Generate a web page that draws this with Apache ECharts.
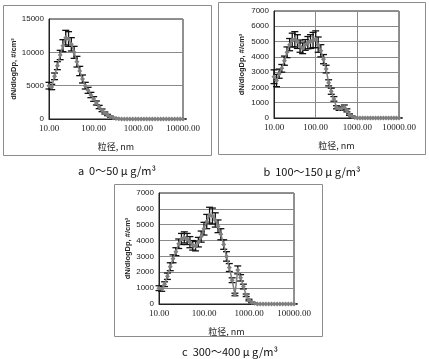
<!DOCTYPE html>
<html><head><meta charset="utf-8">
<script src="https://cdn.jsdelivr.net/npm/echarts@6/dist/echarts.min.js"></script>
<style>html,body{margin:0;padding:0;background:#fff}#c{width:429px;height:359px}</style>
</head><body><div id="c"></div>
<script>
// particle diameter, nm (16 channels per decade)
const diameters = [10.0,11.5,13.3,15.4,17.8,20.5,23.7,27.4,31.6,36.5,42.2,48.7,56.2,64.9,75.0,86.6,
  100,115,133,154,178,205,237,274,316,365,422,487,562,649,750,866,
  1000,1155,1334,1540,1778,2054,2371,2738,3162,3652,4217,4870,5623,6494,7499,8660,10000];
// panel a: 0~50 μg/m³
const seriesA = [5000,4800,6400,8000,9600,11000,12200,12000,11200,10000,8600,7200,6000,5000,4300,3600,
  3000,2400,1800,1300,900,600,350,180,80,30,10,0,0,0,0,0,0,0,0,0,0,0,0,0,0,0,0,0,0,0,0,0,0];
const errA = [500,400,500,600,700,900,1100,1100,1000,900,800,700,600,500,450,400,
  350,300,250,200,150,100,80,50,30,10,10,10,10,10,10,10,10,10,10,10,10,10,10,10,10,10,10,10,10,10,10,10,10];
// panel b: 100~150 μg/m³
const seriesB = [2700,2450,2900,3250,3750,4300,4800,5100,5150,5000,4700,4560,4780,4930,5000,5100,
  5150,4800,4400,3850,3200,2300,1750,1250,700,600,620,700,500,220,100,40,0,0,0,0,0,0,0,0,0,0,0,0,0,0,0,0,0];
const errB = [450,400,300,250,300,350,400,450,500,450,400,350,350,400,450,500,
  550,500,400,300,250,200,200,150,100,100,100,150,100,50,30,10,10,10,10,10,10,10,10,10,10,10,10,10,10,10,10,10,10];
// panel c: 300~400 μg/m³
const seriesC = [1000,950,1250,1750,2350,2850,3300,3800,4100,4200,4100,3900,3700,3650,3900,4250,
  4750,5200,5600,5550,5300,4900,4400,3750,3000,2300,1500,600,2150,1650,1100,550,250,100,40,0,0,0,0,0,0,0,0,0,0,0,0,0,0];
const errC = [150,150,150,200,250,250,250,300,350,350,350,350,300,300,300,350,
  400,450,500,500,450,400,350,300,300,250,150,80,250,200,150,80,50,20,10,10,10,10,10,10,10,10,10,10,10,10,10,10,10];

const yNameText = 'dN/dlogDp, #/cm³';
const xNameText = '粒径, nm';
const captions = ['a  0～50 μ g/m³', 'b  100～150 μ g/m³', 'c  300～400 μ g/m³'];
const yMax = [15000, 7000, 7000];
const yStep = [5000, 1000, 1000];

const grids = [
  {left:49, top:19, width:134, height:100},
  {left:274, top:11, width:125, height:107},
  {left:159, top:193, width:135, height:111}
];
const vGrid = [false, true, false];
const yGap = [29, 28, 19];

const chart = echarts.init(document.getElementById('c'), null, {renderer:'canvas'});
const all = [[seriesA,errA],[seriesB,errB],[seriesC,errC]];

const xAxes = [], yAxes = [], series = [];
grids.forEach((g,i)=>{
  xAxes.push({gridIndex:i, type:'log', logBase:10, min:10, max:10000,
    axisLine:{show:true, onZero:false, lineStyle:{color:'#222', width:1}},
    axisTick:{show:false},
    splitLine:{show:vGrid[i], lineStyle:{color:'#8a8a8a', width:1}},
    axisLabel:{fontFamily:'Liberation Serif', fontSize:9, color:'#222', margin:5,
      formatter:v=>Number(v).toFixed(2)},
    name:xNameText, nameLocation:'middle', nameGap:23,
    nameTextStyle:{fontFamily:'Noto Sans CJK SC', fontSize:9, color:'#222'}
  });
  yAxes.push({gridIndex:i, type:'value', min:0, max:yMax[i], interval:yStep[i],
    axisLine:{show:true, lineStyle:{color:'#222', width:1}},
    axisTick:{show:false},
    splitLine:{show:true, lineStyle:{color:'#8a8a8a', width:1}},
    axisLabel:{fontFamily:'Liberation Sans', fontSize:8, color:'#222', margin:5,
      formatter:v=>String(Math.round(v))},
    name:yNameText, nameLocation:'middle', nameRotate:90, nameGap:yGap[i],
    nameTextStyle:{fontFamily:'Liberation Sans', fontSize:7.5, fontWeight:'bold', color:'#222'}
  });
  const [vals, errs] = all[i];
  const errData = diameters.map((d,k)=>[d, vals[k]-errs[k], vals[k]+errs[k]]);
  series.push({type:'custom', xAxisIndex:i, yAxisIndex:i, z:2, silent:true,
    data: errData,
    renderItem:(params, api)=>{
      const lo = api.coord([api.value(0), Math.max(api.value(1),0)]);
      const hi = api.coord([api.value(0), api.value(2)]);
      const w = 3.5;
      const st = {stroke:'#111', lineWidth:1.3};
      return {type:'group', children:[
        {type:'line', shape:{x1:lo[0],y1:lo[1],x2:hi[0],y2:hi[1]}, style:st},
        {type:'line', shape:{x1:hi[0]-w,y1:hi[1],x2:hi[0]+w,y2:hi[1]}, style:st},
        {type:'line', shape:{x1:lo[0]-w,y1:lo[1],x2:lo[0]+w,y2:lo[1]}, style:st}
      ]};
    }
  });
  series.push({type:'line', xAxisIndex:i, yAxisIndex:i, z:3,
    data: diameters.map((d,k)=>[d, vals[k]]),
    symbol:'diamond', symbolSize:5, showSymbol:true,
    itemStyle:{color:'#7f7f7f'},
    lineStyle:{color:'#7f7f7f', width:1.5}
  });
});

const grid = grids.map(g=>Object.assign({show:true, borderColor:'#222', borderWidth:1, backgroundColor:'transparent', containLabel:false}, g));

const frames = [
  {x:3, y:5, w:208, h:150},
  {x:218, y:2, w:207, h:152},
  {x:114, y:184, w:208, h:152}
];
const capPos = [[117,171],[312,172],[230,352]];
const graphic = [];
frames.forEach(f=>graphic.push({type:'rect', shape:{x:f.x+0.5,y:f.y+0.5,width:f.w,height:f.h},
  style:{fill:'none', stroke:'#8c8c8c', lineWidth:1}, silent:true, z:0}));
captions.forEach((t,i)=>graphic.push({type:'text', x:capPos[i][0], y:capPos[i][1],
  style:{text:t, fontFamily:'Noto Sans CJK SC', fontSize:11, fill:'#111', align:'center', verticalAlign:'middle'}}));

chart.setOption({animation:false, backgroundColor:'#fff', grid, xAxis:xAxes, yAxis:yAxes, series, graphic});
</script></body></html>
